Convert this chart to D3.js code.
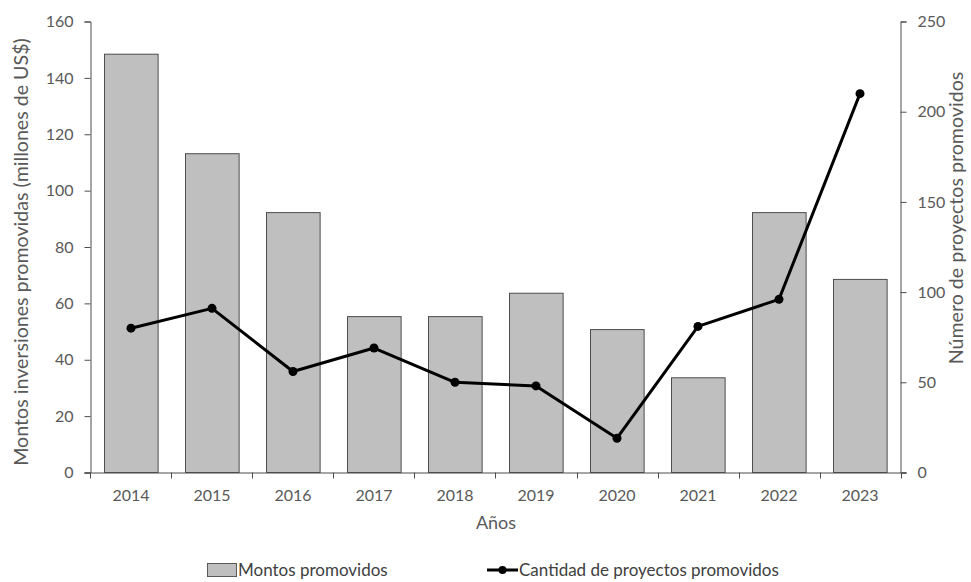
<!DOCTYPE html>
<html>
<head>
<meta charset="utf-8">
<script src="https://cdn.jsdelivr.net/npm/d3@7"></script>
<style>
  body { margin: 0; background: #fff; }
  svg { display: block; }
  text { font-family: Lato, "Open Sans", sans-serif; }
</style>
</head>
<body>
<svg id="chart" width="971" height="582"></svg>
<script>
const years = ["2014","2015","2016","2017","2018","2019","2020","2021","2022","2023"];
const montos = [148.4, 113.1, 92.2, 55.3, 55.3, 63.6, 50.7, 33.6, 92.2, 68.5];
const proyectos = [80, 91, 56, 69, 50, 48, 19, 81, 96, 210];
const leftTicks = [0, 20, 40, 60, 80, 100, 120, 140, 160];
const rightTicks = [0, 50, 100, 150, 200, 250];
const labels = {
  yLeft: "Montos inversiones promovidas (millones de US$)",
  yRight: "Número de proyectos promovidos",
  x: "Años",
  legendBar: "Montos promovidos",
  legendLine: "Cantidad de proyectos promovidos"
};

const svg = d3.select("#chart");
const m = { left: 90.5, right: 900.5, top: 21.5, bottom: 472.5 };
const axisColor = "#4d4d4d";
const textColor = "#595959";

const x = d3.scaleBand().domain(years).range([m.left, m.right]).paddingInner(0.338).paddingOuter(0.169);
const yL = d3.scaleLinear().domain([0, 160]).range([m.bottom, m.top]);
const yR = d3.scaleLinear().domain([0, 250]).range([m.bottom, m.top]);

// bars
svg.append("g").selectAll("rect").data(years).join("rect")
  .attr("x", d => Math.round(x(d)) + 0.5)
  .attr("y", (d, i) => yL(montos[i]))
  .attr("width", x.bandwidth())
  .attr("height", (d, i) => yL(0) - yL(montos[i]))
  .attr("fill", "#bfbfbf")
  .attr("stroke", "#4d4d4d")
  .attr("stroke-width", 1);

// left axis
const gL = svg.append("g").attr("transform", `translate(${m.left},0)`)
  .call(d3.axisLeft(yL).tickValues(leftTicks).tickSize(6).tickPadding(11));
// right axis
const gR = svg.append("g").attr("transform", `translate(${m.right},0)`)
  .call(d3.axisRight(yR).tickValues(rightTicks).tickSize(6).tickPadding(11));
// bottom axis with ticks at band boundaries
const gB = svg.append("g").attr("transform", `translate(0,${m.bottom})`)
  .call(d3.axisBottom(x).tickSize(0).tickPadding(17));
gB.select(".domain").attr("d", `M${m.left - 6},0.5H${m.right + 6}`);

const bounds = years.map(d => x(d) - x.step() * x.paddingInner() / 2).concat([m.right]);
gB.selectAll(".bt").data(bounds).join("line").attr("class", "bt")
  .attr("x1", d => Math.round(d) + 0.5).attr("x2", d => Math.round(d) + 0.5)
  .attr("y1", 0).attr("y2", 6).attr("stroke", axisColor);

[gL, gR, gB].forEach(g => {
  g.selectAll(".domain").attr("stroke", axisColor);
  g.selectAll(".tick line").attr("stroke", axisColor);
  g.selectAll(".tick text").attr("fill", textColor).style("font-size", "16px").style("font-family", "Lato, 'Open Sans', sans-serif");
});

// line
const line = d3.line().x((d, i) => x(years[i]) + x.bandwidth() / 2).y(d => yR(d));
svg.append("path").datum(proyectos).attr("d", line)
  .attr("fill", "none").attr("stroke", "#000").attr("stroke-width", 3).attr("stroke-linejoin", "round");
svg.append("g").selectAll("circle").data(proyectos).join("circle")
  .attr("cx", (d, i) => x(years[i]) + x.bandwidth() / 2)
  .attr("cy", d => yR(d)).attr("r", 4.5).attr("fill", "#000");

// axis titles
const tL = svg.append("text").attr("transform", `translate(28,252) rotate(-90)`)
  .attr("text-anchor", "middle").attr("fill", textColor).style("font-size", "17px").text(labels.yLeft);
const len = tL.node().getComputedTextLength();
const titleSize = (17 * 428 / len).toFixed(2) + "px";
tL.style("font-size", titleSize);
svg.append("text").attr("transform", `translate(963,218) rotate(-90)`)
  .attr("text-anchor", "middle").attr("fill", textColor).style("font-size", titleSize).text(labels.yRight);
svg.append("text").attr("x", 496).attr("y", 529).attr("text-anchor", "middle")
  .attr("fill", textColor).style("font-size", "18px").text(labels.x);

// legend
const lg = svg.append("g");
lg.append("rect").attr("x", 207.5).attr("y", 563.5).attr("width", 29).attr("height", 13)
  .attr("fill", "#bfbfbf").attr("stroke", "#595959");
lg.append("text").attr("x", 238).attr("y", 576).attr("fill", "#404040").style("font-size", "17px").text(labels.legendBar);
lg.append("line").attr("x1", 487).attr("x2", 518).attr("y1", 570).attr("y2", 570).attr("stroke", "#000").attr("stroke-width", 3);
lg.append("circle").attr("cx", 502.5).attr("cy", 570).attr("r", 4).attr("fill", "#000");
lg.append("text").attr("x", 519).attr("y", 576).attr("fill", "#404040").style("font-size", "17px").text(labels.legendLine);
</script>
</body>
</html>
